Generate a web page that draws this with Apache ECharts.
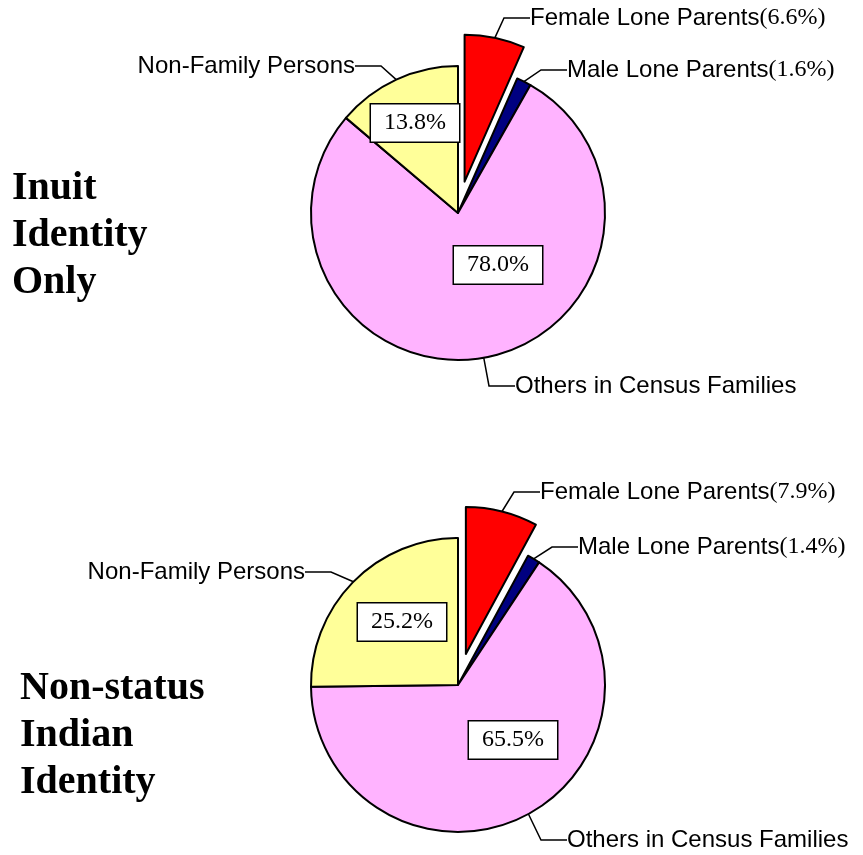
<!DOCTYPE html>
<html>
<head>
<meta charset="utf-8">
<script src="https://cdn.jsdelivr.net/npm/echarts@6/dist/echarts.min.js"></script>
<style>
    html, body { margin: 0; padding: 0; background: #fff; }
    #main { width: 863px; height: 855px; }
</style>
</head>
<body>
<div id="main"></div>
<script>
// data -----------------------------------------------
var categories = ['Female Lone Parents', 'Male Lone Parents', 'Others in Census Families', 'Non-Family Persons'];
var inuitValues = [6.6, 1.6, 78.0, 13.8];
var nonStatusValues = [7.9, 1.4, 65.5, 25.2];
var groupTitles = ['Inuit\nIdentity\nOnly', 'Non-status\nIndian\nIdentity'];
var pctOutside = [true, true, false, false]; // small slices: % goes after the name
var exploded = [true, false, false, false];  // female slice pulled out

var sliceColors = ['#ff0000', '#000080', '#ffb3ff', '#ffff99'];
var CLEAR = 'rgba(0,0,0,0)';

// layout ----------------------------------------------
var centers = [[458, 213], [458, 685]];
var pieRadius = 147;
var explodeDist = 32;
var outerPos = [
    [[530, 18, 'left'], [567, 70, 'left'], [515, 386, 'left'], [355, 66, 'right']],
    [[540, 492, 'left'], [578, 547, 'left'], [567, 840, 'left'], [305, 572, 'right']]
];
var innerPos = [
    [null, null, [498, 265], [415, 123]],
    [null, null, [513, 740], [402, 622]]
];

var myChart = echarts.init(document.getElementById('main'));

// centre of the pulled-out slice: move along its bisector
function explodedCenter(values, k) {
    var total = values.reduce(function (a, b) { return a + b; }, 0);
    var before = 0;
    for (var i = 0; i < values.length && !exploded[i]; i++) before += values[i];
    var mid = (before + values[i] / 2) / total * Math.PI * 2;
    return [centers[k][0] + explodeDist * Math.sin(mid), centers[k][1] - explodeDist * Math.cos(mid)];
}

// one pie layer; "pulled" picks which slices this layer draws
function pieLayer(values, k, pulled) {
    return {
        type: 'pie',
        center: pulled ? explodedCenter(values, k) : centers[k],
        radius: pieRadius,
        avoidLabelOverlap: false,
        silent: true,
        data: values.map(function (v, i) {
            var mine = exploded[i] === pulled;
            return {
                name: categories[i],
                value: v,
                itemStyle: mine
                    ? { color: sliceColors[i], borderColor: '#000', borderWidth: 2 }
                    : { color: CLEAR, borderWidth: 0 },
                label: { show: mine },
                labelLine: { show: mine }
            };
        }),
        label: {
            position: 'outside',
            formatter: function (p) {
                var s = '{n|' + p.name + '}';
                if (pctOutside[p.dataIndex]) {
                    s += '{p|(' + values[p.dataIndex].toFixed(1) + '%)}';
                }
                return s;
            },
            rich: {
                n: { fontFamily: 'Liberation Sans, Arial', fontSize: 24, color: '#000' },
                p: { fontFamily: 'Liberation Serif, Times New Roman', fontSize: 24, color: '#000' }
            }
        },
        labelLine: {
            length: 10,
            length2: 26,
            lineStyle: { color: '#000', width: 1.5 }
        },
        labelLayout: function (p) {
            var pos = outerPos[k][p.dataIndex];
            return { x: pos[0], y: pos[1], align: pos[2], verticalAlign: 'middle' };
        }
    };
}

function innerLabels(values, k) {
    return {
        type: 'pie',
        center: centers[k],
        radius: pieRadius,
        z: 5,
        silent: true,
        avoidLabelOverlap: false,
        itemStyle: { color: CLEAR, borderWidth: 0 },
        data: values.map(function (v, i) {
            return { name: categories[i], value: v, label: { show: !pctOutside[i] } };
        }),
        label: {
            position: 'inside',
            formatter: function (p) {
                return values[p.dataIndex].toFixed(1) + '%';
            },
            fontFamily: 'Liberation Serif, Times New Roman',
            fontSize: 24,
            color: '#000',
            backgroundColor: '#fff',
            borderColor: '#000',
            borderWidth: 1.5,
            padding: [7, 13, 6, 13]
        },
        labelLine: { show: false },
        labelLayout: function (p) {
            var pos = innerPos[k][p.dataIndex];
            if (!pos) return {};
            return { x: pos[0], y: pos[1], align: 'center', verticalAlign: 'middle' };
        }
    };
}

var titleStyle = {
    fontFamily: 'Liberation Serif, Times New Roman',
    fontWeight: 'bold',
    fontSize: 40,
    lineHeight: 47,
    color: '#000'
};

var option = {
    backgroundColor: '#fff',
    animation: false,
    title: [
        { text: groupTitles[0], left: 12, top: 165, padding: 0, textStyle: titleStyle },
        { text: groupTitles[1], left: 20, top: 665, padding: 0, textStyle: titleStyle }
    ],
    series: [
        pieLayer(inuitValues, 0, false),
        pieLayer(inuitValues, 0, true),
        innerLabels(inuitValues, 0),
        pieLayer(nonStatusValues, 1, false),
        pieLayer(nonStatusValues, 1, true),
        innerLabels(nonStatusValues, 1)
    ]
};
myChart.setOption(option);
</script>
</body>
</html>
